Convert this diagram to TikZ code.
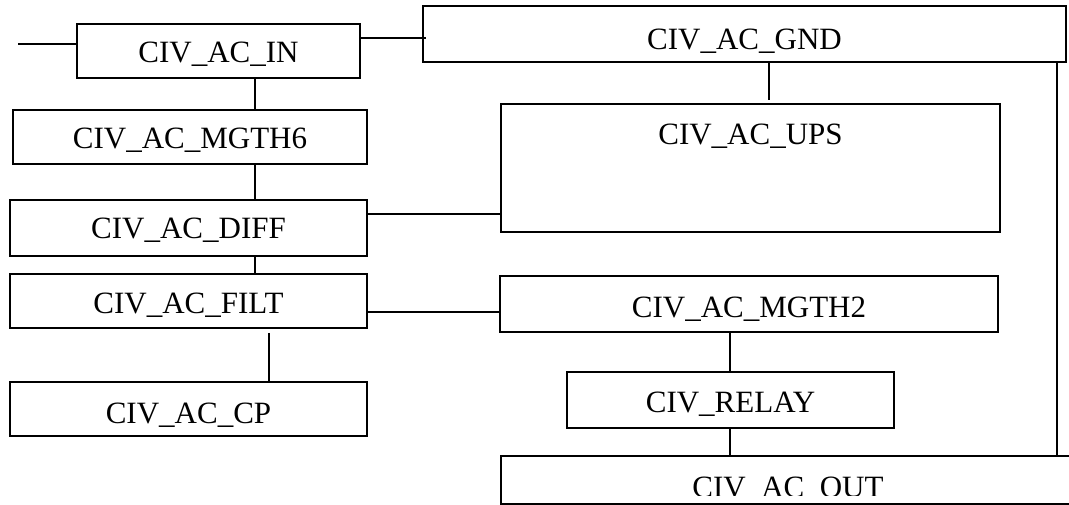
\documentclass[tikz,border=0pt]{standalone}
\usepackage{fontspec}
\setmainfont{Liberation Serif}
\begin{document}
\begin{tikzpicture}[x=1pt,y=-1pt,
  box/.style={draw, line width=1.6pt, inner sep=0pt, text depth=0pt, text height=24pt,
              font=\fontsize{31}{37}\selectfont},
  wire/.style={line width=1.6pt}]
\clip (0,0) rectangle (1069,505);
% boxes
\node[box, minimum width=283pt, minimum height=54pt] (in) at (218.5,51) {CIV\_AC\_IN};
\node[box, minimum width=643pt, minimum height=56pt, text height=32pt] (gnd) at (744.5,34) {CIV\_AC\_GND};
\node[box, minimum width=354pt, minimum height=54pt] (mgth6) at (190,137) {CIV\_AC\_MGTH6};
\node[box, minimum width=357pt, minimum height=56pt, text height=22pt] (diff) at (188.5,228) {CIV\_AC\_DIFF};
\node[box, minimum width=499pt, minimum height=128pt, text height=0pt, text depth=46pt] (ups) at (750.5,168) {CIV\_AC\_UPS};
\node[box, minimum width=357pt, minimum height=54pt, text height=26pt] (filt) at (188.5,301) {CIV\_AC\_FILT};
\node[box, minimum width=357pt, minimum height=54pt, text height=28pt] (cp) at (188.5,409) {CIV\_AC\_CP};
\node[box, minimum width=498pt, minimum height=56pt, text height=26pt] (mgth2) at (749,304) {CIV\_AC\_MGTH2};
\node[box, minimum width=327pt, minimum height=56pt] (relay) at (730.5,400) {CIV\_RELAY};
\node[box, minimum width=574pt, minimum height=48pt] (out) at (788,480) {};
\begin{scope}
  \clip (0,0) rectangle (1069,495);
  \node[anchor=base, inner sep=0pt, font=\fontsize{31}{37}\selectfont] (outtext) at (788,497) {CIV\_AC\_OUT};
\end{scope}
% helper coordinates
\coordinate (stub) at (18,44);
\coordinate (gndin) at (426,38);
\coordinate (c255) at (255,0);
\coordinate (c269) at (269,0);
\coordinate (c730) at (730,0);
\coordinate (c769) at (769,0);
\coordinate (c1057) at (1057,0);
\coordinate (r214) at (0,214);
\coordinate (r312) at (0,312);
% connectors
\draw[wire] (stub) -- (stub -| in.west);
\draw[wire] (gndin -| in.east) -- (gndin);
\draw[wire] (in.south -| c255) -- (mgth6.north -| c255);
\draw[wire] (mgth6.south -| c255) -- (diff.north -| c255);
\draw[wire] (diff.south -| c255) -- (filt.north -| c255);
\draw[wire] (diff.east |- r214) -- (ups.west |- r214);
\draw[wire] (gnd.south -| c769) -- ([yshift=3pt]ups.north -| c769);
\draw[wire] (filt.east |- r312) -- (mgth2.west |- r312);
\draw[wire] ([yshift=-4pt]filt.south -| c269) -- (cp.north -| c269);
\draw[wire] (mgth2.south -| c730) -- (relay.north -| c730);
\draw[wire] (relay.south -| c730) -- (out.north -| c730);
\draw[wire] (gnd.south -| c1057) -- (out.north -| c1057);
\end{tikzpicture}
\end{document}
